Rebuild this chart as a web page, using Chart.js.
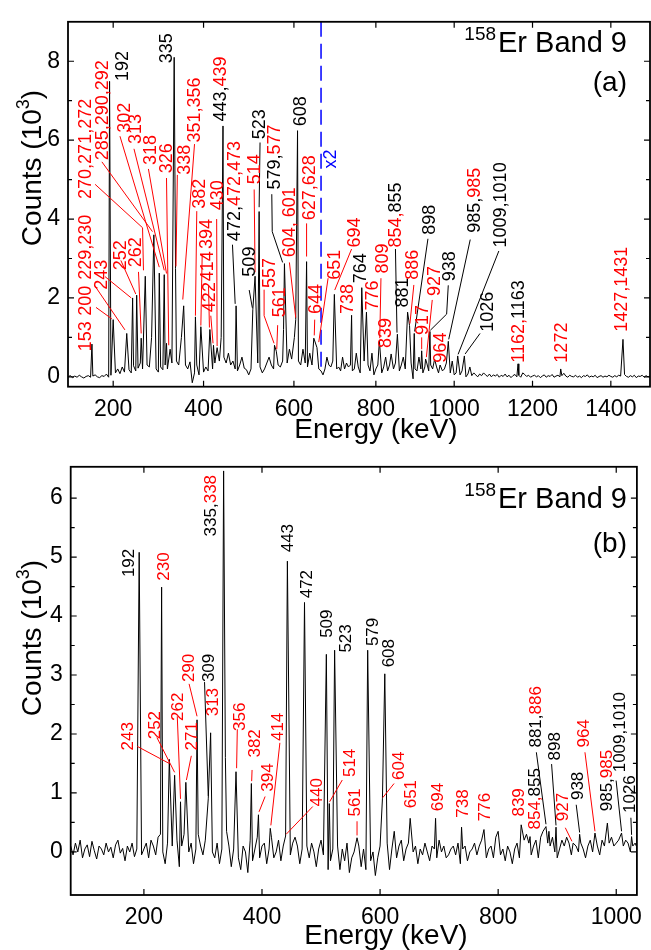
<!DOCTYPE html>
<html>
<head>
<meta charset="utf-8">
<script src="https://cdn.jsdelivr.net/npm/chart.js@4.4.1/dist/chart.umd.min.js"></script>
<style>
  html, body { margin: 0; padding: 0; background: #fff; }
  #wrap { position: relative; width: 651px; height: 950px; overflow: hidden; }
  canvas { position: absolute; left: 0; }
  #specA { top: 0; }
  #specB { top: 445px; }
</style>
</head>
<body>
<div id="wrap">
  <canvas id="specA" width="651" height="445"></canvas>
  <canvas id="specB" width="651" height="505"></canvas>
</div>
<script>
// ---------- panel (a): full gate spectrum, counts in 10^3 ----------
const energyTicksA = [200, 400, 600, 800, 1000, 1200, 1400];
const countTicksA = [0, 2, 4, 6, 8];
const countMinorA = [1, 3, 5, 7];
const bgStartA = 100, bgStepA = 5;
const backgroundA = [
  0.0, 0.03, -0.02, 0.02, -0.01, 0.04, 0.0, -0.03, 0.01, 0.03, -0.01, 0.02, 0.05, 0.0, -0.02, 0.03, 0.01, 0.07, -0.01, 0.04,
  0.15, 0.1, 0.2, 0.08, 0.25, 0.12, 0.3, 0.18, 0.1, 0.28, 0.15, 0.22, 0.35, 0.2, 0.1, 0.3, 0.25, 0.15, 0.32, 0.2, 0.12,
  0.25, 0.18, 0.3, 0.2, 0.15, 0.35, 0.28, 0.4, 0.3, 0.22, 0.45, 0.3, 0.2, 0.38, -0.15, 0.1, 0.3, 0.05, 0.2, 0.12,
  0.25, 0.15, 0.3, 0.2, 0.35, 0.22, 0.4, 0.3, 0.5, 0.35, 0.6, 0.3, 0.4, 0.2, 0.15, 0.3, 0.5, 0.22, 0.18, 0.05,
  0.2, 0.3, 0.15, 0.35, 0.25, 0.1, 0.2, 0.35, 0.5, 0.3, 0.2, 0.15, 0.3, 0.25, 0.4, 0.5, 0.35, 0.7, 0.45, 0.5,
  0.55, 0.4, 0.3, 0.7, 0.35, 0.25, 0.6, 0.3, 0.45, 0.3, 0.2, 0.15, 0.05, 0.2, 0.5, 0.3, 0.25, 0.4, 0.35, 0.2,
  0.25, 0.15, 0.5, 0.2, 0.35, 0.25, 0.3, 0.15, 0.2, 0.6, 0.25, 0.1, 0.3, 0.4, 0.2, 0.3, 0.15, 0.6, 0.05, 0.2,
  0.3, 0.2, 0.1, 0.25, 0.5, 0.15, 0.3, 0.05, 0.2, 0.35, 0.25, 0.15, 0.3, 0.5, 0.2, 0.3, 0.5, 0.35, -0.05, 0.2,
  0.15, 0.5, 0.2, 0.1, 0.25, 0.35, 0.15, 0.3, 0.2, 0.45, 0.25, 0.1, 0.3, 0.15, 0.2, 0.35, 0.25, 0.1, 0.4, 0.05,
  0.1, 0.2, 0.05, 0.15, 0.1, 0.0, 0.07, 0.25, 0.03, 0.1, 0.05, 0.0, 0.07, 0.03, 0.1, 0.05, 0.01, 0.07, 0.0, 0.05,
  0.02, 0.06, -0.01, 0.04, 0.01, 0.07, 0.0, 0.04, -0.02, 0.03, 0.06, 0.0, 0.04, -0.01, 0.1, 0.06, 0.01, 0.04, -0.01, 0.02,
  0.04, 0.0, 0.03, -0.02, 0.02, 0.05, -0.01, 0.03, 0.01, 0.06, -0.01, 0.02, 0.04, 0.0, 0.03, 0.09, 0.02, -0.01, 0.04, 0.01,
  0.0, 0.04, -0.01, 0.02, -0.02, 0.03, 0.01, 0.05, -0.01, 0.02, 0.0, 0.04, -0.02, 0.01, 0.03, -0.01, 0.02, 0.0, 0.04, 0.01,
  -0.01, 0.03, 0.0, 0.04, 0.02, 0.09, 0.06, 0.01, -0.01, 0.03, 0.0, 0.04, -0.02, 0.02, 0.01, 0.04, -0.01, 0.03, 0.0, 0.02
];
const peakEnergyA = [153, 192, 200, 230, 243, 252, 262, 271, 285, 290, 302, 313, 318, 326, 335, 338, 351, 356,
  382, 394, 414, 422, 430, 439, 443, 472, 509, 514, 523, 557, 561, 577, 579, 601, 604, 608, 628, 644, 651,
  694, 738, 764, 776, 809, 839, 855, 881, 886, 898, 917, 927, 938, 964, 985, 1009, 1026, 1163, 1272, 1431];
const peakHeightA = [0.83, 7.49, 1.45, 1.1, 2.0, 2.07, 0.98, 2.55, 1.0, 3.6, 2.63, 2.59, 0.85, 0.7, 8.1, 2.75, 1.0, 1.8,
  1.52, 1.27, 1.2, 0.8, 0.74, 1.0, 6.36, 1.8, 1.7, 2.55, 4.19, 0.8, 0.65, 1.2, 2.87, 1.0, 1.45, 6.24, 2.92, 0.98, 0.74,
  2.09, 1.56, 2.26, 1.64, 0.92, 0.58, 1.08, 1.64, 1.3, 1.1, 0.66, 0.45, 1.15, 0.3, 0.9, 0.53, 0.53, 0.33, 0.2, 0.95];

// ---------- panel (b) ----------
const energyTicksB = [200, 400, 600, 800, 1000];
const countTicksB = [0, 1, 2, 3, 4, 5, 6];
const countMinorB = [0.5, 1.5, 2.5, 3.5, 4.5, 5.5];
const bgStartB = 76, bgStepB = 4;
const backgroundB = [
  0.1, -0.05, 0.15, 0.0, 0.2, -0.1, 0.05, 0.12, -0.08, 0.18, 0.02, -0.12, 0.1, 0.05, -0.05, 0.15, 0.0, 0.08, -0.1, 0.12,
  0.2, -0.02, 0.06, -0.15, 0.1, 0.0, 0.15, -0.08, 0.05, 0.1, -0.05,
  0.05, 0.15, -0.1, 0.2, 0.1, -0.05, 0.25, 0.3, 0.0, -0.2,
  0.15, 0.35, 0.1, -0.15, 0.2, -0.25, 0.1, 0.3, -0.1, 0.0,
  0.15, -0.2, 0.05, 0.3, 0.1, -0.05, 0.2, 0.4, 0.25, 0.0,
  -0.1, 0.15, -0.2, 0.05, 0.2, 0.35, 0.1, -0.25, 0.05, 0.15,
  -0.1, -0.3, 0.1, 0.0, -0.35, 0.2, -0.15, 0.05, 0.25, -0.1,
  0.1, 0.15, -0.2, 0.05, 0.25, -0.1, 0.0, 0.2, -0.15, 0.1,
  0.05, 0.2, -0.05, 0.15, 0.25, 0.1, -0.2, 0.05, 0.3, 0.1,
  -0.1, 0.15, 0.0, -0.25, 0.05, 0.2, -0.05, 0.1, -0.3, -0.15,
  0.05, -0.2, 0.1, -0.3, 0.05, -0.15, 0.15, -0.35, -0.1, 0.0,
  -0.45, 0.1, -0.25, 0.05, -0.3, 0.1, -0.15, 0.0, -0.4, -0.1,
  0.1, -0.05, 0.25, 0.15, -0.3, 0.05, 0.35, -0.1, 0.1, 0.2,
  -0.15, 0.05, 0.15, -0.1, 0.0, 0.1, -0.2, 0.05, -0.05, 0.15,
  0.0, -0.15, 0.1, 0.05, -0.1, 0.2, 0.0, 0.1, -0.1, -0.05,
  0.05, 0.1, -0.05, 0.15, -0.2, 0.05, 0.1, -0.15, 0.0, 0.05,
  0.15, -0.05, 0.1, 0.2, 0.0, -0.1, 0.05, 0.1, -0.1, 0.25,
  0.35, -0.05, 0.05, -0.15, 0.1, 0.0, -0.2, 0.05, 0.15, -0.1,
  0.05, 0.2, 0.3, 0.15, -0.05, 0.1, 0.2, -0.1, 0.25, 0.35,
  0.3, 0.15, 0.1, 0.25, 0.0, -0.1, 0.05, 0.2, 0.1, 0.25,
  0.15, -0.05, 0.2, 0.1, 0.0, 0.15, 0.05, -0.1, 0.1, 0.2,
  0.0, 0.15, 0.1, -0.05, 0.2, 0.1, 0.05, 0.15, 0.25, 0.1,
  0.15, 0.2, 0.05, 0.1, 0.2, 0.15, 0.0, 0.1, 0.15, 0.05
];
const peakEnergyB = [192, 230, 243, 252, 262, 271, 290, 309, 313, 335, 338, 356, 382, 394, 414, 440, 443, 472,
  509, 514, 523, 561, 579, 604, 608, 651, 694, 738, 776, 839, 854, 881, 886, 898, 927, 938, 964, 985, 1009, 1026];
const peakHeightB = [5.08, 4.49, 1.57, 1.3, 0.85, 1.18, 2.24, 0.9, 2.02, 6.46, 1.6, 1.36, 1.16, 0.63, 0.4, 0.27, 4.93, 4.23,
  3.35, 0.82, 3.42, 0.24, 3.42, 0.9, 3.02, 0.57, 0.57, 0.42, 0.38, 0.46, 0.26, 0.43, 0.35, 0.42, 0.15, 0.3, 0.32, 0.49, 0.32, 0.26];

const FONT = '"Liberation Sans", Arial, Helvetica, sans-serif';
const R = '#ff0000', K = '#000000', BLUE = '#0000ff';

// rotated peak labels: "at" is the foot of the text column (keV, counts), "line" the leader down to the peak
const labelsA = [
  { parts: [['153', R]], at: [137.6, 0.65] },
  { parts: [['200', R]], at: [137.6, 1.55], line: [[162, 1.76], [197, 1.47]] },
  { parts: [['229,230', R]], at: [137.6, 2.46], line: [[158, 2.33], [226, 1.19]] },
  { parts: [['243', R]], at: [172.4, 2.21], line: [[182, 2.54], [240, 2.0]] },
  { parts: [['252', R]], at: [215.1, 2.7], line: [[217, 2.95], [250, 2.1]] },
  { parts: [['262', R]], at: [248.3, 2.78], line: [[256, 2.66], [262, 1.1]] },
  { parts: [['270,271,272', R]], at: [137.6, 4.51], line: [[160, 4.88], [265, 3.78], [267, 2.7]] },
  { parts: [['285,290,292', R]], at: [174.6, 5.49], line: [[175, 5.45], [287, 3.68]] },
  { parts: [['302', R]], at: [222.4, 6.19], line: [[215, 6.1], [302, 2.78]] },
  { parts: [['313', R]], at: [248.3, 5.9], line: [[246, 5.78], [313, 2.7]] },
  { parts: [['318', R]], at: [281.5, 5.37], line: [[278, 5.27], [318, 2.62]] },
  { parts: [['326', R]], at: [316.9, 5.16], line: [[318, 5.04], [323, 0.8]] },
  { parts: [['338', R]], at: [355.1, 5.12], line: [[342, 5.12], [339, 2.8]] },
  { parts: [['335', K]], at: [316.9, 7.95] },
  { parts: [['192', K]], at: [218.8, 7.5] },
  { parts: [['351,356', R]], at: [377.3, 5.94], line: [[380, 5.9], [354, 1.96]] },
  { parts: [['382', R]], at: [388.3, 4.26], line: [[385, 4.2], [382, 1.55]] },
  { parts: [['394', R]], at: [404.7, 3.24], line: [[397, 3.1], [394, 1.3]] },
  { parts: [['414', R]], at: [406.9, 2.42], line: [[411, 2.3], [413, 1.25]] },
  { parts: [['422', R]], at: [410.5, 1.64], line: [[416, 1.55], [421, 0.85]] },
  { parts: [['430', R]], at: [429.1, 4.22], line: [[429, 4.0], [430, 0.78]] },
  { parts: [['443,', K], ['439', R]], at: [436.4, 6.47] },
  { parts: [['472,', K], ['472,473', R]], at: [465.8, 3.44], line: [[464, 3.35], [470, 1.85]] },
  { parts: [['509', K]], at: [499, 2.54], line: [[501, 2.2], [508, 1.75]] },
  { parts: [['514', R]], at: [510.1, 4.88], line: [[512, 4.75], [514, 2.65]] },
  { parts: [['523', K]], at: [521.1, 6.02], line: [[525, 5.94], [523, 4.3]] },
  { parts: [['557', R]], at: [543.2, 2.25], line: [[534, 2.21], [534, 1.55], [556, 0.85]] },
  { parts: [['561', R]], at: [565.4, 1.51], line: [[564, 1.31], [562, 0.7]] },
  { parts: [['579,', K], ['577', R]], at: [554.3, 4.75], line: [[551, 4.63], [552, 3.68], [575, 2.9]] },
  { parts: [['604, 601', R]], at: [587.5, 3.03], line: [[590, 2.9], [604, 1.5]] },
  { parts: [['608', K]], at: [613.4, 6.35] },
  { parts: [['627,628', R]], at: [631.8, 3.97], line: [[628, 3.89], [628, 3.05]] },
  { parts: [['644', R]], at: [646.6, 1.59], line: [[646, 1.45], [645, 1.05]] },
  { parts: [['651', R]], at: [691.3, 2.46], line: [[678, 2.5], [655, 0.88]] },
  { parts: [['694', R]], at: [742.3, 3.28], line: [[738, 3.24], [695, 2.2]] },
  { parts: [['738', R]], at: [725.4, 1.59] },
  { parts: [['764', K]], at: [759.5, 2.37] },
  { parts: [['776', R]], at: [789.4, 1.68] },
  { parts: [['809', R]], at: [814.9, 2.62], line: [[813, 2.5], [810, 0.98]] },
  { parts: [['839', R]], at: [823.3, 0.73] },
  { parts: [['854,', R], ['855', K]], at: [848.8, 3.28], lc: K, line: [[850, 3.24], [854, 1.12]] },
  { parts: [['881', K]], at: [865.9, 1.76] },
  { parts: [['886', R]], at: [891.4, 2.46], line: [[897, 2.33], [887, 1.35]] },
  { parts: [['898', K]], at: [933.8, 3.6], line: [[933, 3.5], [899, 1.15]] },
  { parts: [['917', R]], at: [917, 1.06], line: [[917, 1.0], [917, 0.7]] },
  { parts: [['927', R]], at: [946.6, 2.05], line: [[944, 1.95], [929, 0.5]] },
  { parts: [['938', K]], at: [984.9, 2.42], line: [[984.9, 2.32], [980.7, 1.59], [939, 1.18]] },
  { parts: [['964', R]], at: [963.7, 0.36] },
  { parts: [['985,', K], ['985', R]], at: [1048.6, 3.65], line: [[1041, 3.48], [986, 0.95]] },
  { parts: [['1009,1010', K]], at: [1116.9, 3.28], line: [[1114, 3.19], [1010, 0.57]] },
  { parts: [['1026', K]], at: [1082.9, 1.14], line: [[1066, 1.1], [1028, 0.58]] },
  { parts: [['1162,', R], ['1163', K]], at: [1161.2, 0.36] },
  { parts: [['1272', R]], at: [1271.9, 0.36] },
  { parts: [['1427,1431', R]], at: [1425.1, 1.14] },
  { parts: [['x2', BLUE]], at: [681, 5.28] }
];

const labelsB = [
  { parts: [['192', K]], at: [172.7, 4.66] },
  { parts: [['230', R]], at: [232.7, 4.6] },
  { parts: [['243', R]], at: [172, 1.72], line: [[188.7, 1.79], [243, 1.5]] },
  { parts: [['252', R]], at: [216.5, 1.91], line: [[222, 1.94], [252, 1.35]] },
  { parts: [['262', R]], at: [255.3, 2.22], line: [[256.5, 2.3], [262, 0.9]] },
  { parts: [['271', R]], at: [280.3, 1.72], line: [[280.3, 1.63], [272, 1.22]] },
  { parts: [['290', R]], at: [274.8, 2.88], line: [[276.5, 2.85], [290, 2.3]] },
  { parts: [['309', K]], at: [308.2, 2.88], line: [[302.7, 2.88], [309, 0.95]] },
  { parts: [['313', R]], at: [315.8, 2.3] },
  { parts: [['335,', K], ['338', R]], at: [311, 5.35] },
  { parts: [['356', R]], at: [361, 2.05], line: [[358.2, 2.08], [357, 1.42]] },
  { parts: [['382', R]], at: [386, 1.6], line: [[383.2, 1.39], [382.5, 1.2]] },
  { parts: [['394', R]], at: [408.2, 1.02], line: [[405.3, 0.94], [395, 0.68]] },
  { parts: [['414', R]], at: [424.8, 1.88], line: [[430.3, 1.85], [415, 0.45]] },
  { parts: [['440', R]], at: [491.5, 0.77], line: [[486, 0.77], [441, 0.3]] },
  { parts: [['443', K]], at: [443, 5.08] },
  { parts: [['472', K]], at: [473.7, 4.3] },
  { parts: [['509', K]], at: [509, 3.63] },
  { parts: [['523', K]], at: [539.7, 3.38] },
  { parts: [['514', R]], at: [547, 1.27], line: [[536, 1.22], [514.5, 0.85]] },
  { parts: [['561', R]], at: [555.3, 0.6], line: [[561, 0.52], [561, 0.28]] },
  { parts: [['579', K]], at: [585.7, 3.49] },
  { parts: [['608', K]], at: [613.7, 3.13] },
  { parts: [['604', R]], at: [630.3, 1.22], line: [[623.7, 1.16], [604.5, 0.92]] },
  { parts: [['651', R]], at: [651, 0.74] },
  { parts: [['694', R]], at: [695.7, 0.69] },
  { parts: [['738', R]], at: [738, 0.58] },
  { parts: [['776', R]], at: [776, 0.52] },
  { parts: [['839', R]], at: [834, 0.6] },
  { parts: [['854,', R], ['855', K]], at: [860, 0.38] },
  { parts: [['881,', K], ['886', R]], at: [862, 1.77], line: [[864.7, 1.69], [881, 0.47]] },
  { parts: [['898', K]], at: [894.3, 1.55], line: [[890.5, 1.49], [898, 0.45]] },
  { parts: [['927', R]], at: [908.2, 0.52], line: [[913.7, 0.41], [925, 0.18]] },
  { parts: [['938', K]], at: [933.2, 0.88], line: [[932.2, 0.8], [938, 0.33]] },
  { parts: [['964', R]], at: [944.3, 1.77], line: [[947, 1.69], [964, 0.35]] },
  { parts: [['985,', K], ['985', R]], at: [982.2, 0.69] },
  { parts: [['1009,1010', K]], at: [1003.7, 1.35], line: [[999.8, 1.21], [1009, 0.35]] },
  { parts: [['1026', K]], at: [1022, 0.66], line: [[1024.8, 0.58], [1026, 0.29]] }
];

// merge the channel background with the peak tops, ordered by energy
function buildSpectrum(start, step, bg, pe, ph) {
  const pts = [];
  bg.forEach((v, i) => {
    const e = start + i * step;
    if (!pe.some(p => Math.abs(p - e) < 2)) pts.push({ x: e, y: v });
  });
  pe.forEach((e, i) => pts.push({ x: e, y: ph[i] }));
  return pts.sort((a, b) => a.x - b.x);
}

// panel (a) axis is compressed above the x2 mark
const breakA = 660, squeezeA = 0.8667;
class BrokenLinearScale extends Chart.LinearScale {
  warp(v) { return v <= breakA ? v : breakA + (v - breakA) * squeezeA; }
  unwarp(u) { return u <= breakA ? u : breakA + (u - breakA) / squeezeA; }
  getPixelForValue(v) {
    if (v === null || v === undefined) return NaN;
    const a = this.warp(this.min), b = this.warp(this.max);
    return this.getPixelForDecimal((this.warp(v) - a) / (b - a));
  }
  getValueForPixel(p) {
    const a = this.warp(this.min), b = this.warp(this.max);
    return this.unwarp(a + this.getDecimalForPixel(p) * (b - a));
  }
}
BrokenLinearScale.id = 'brokenLinear';
BrokenLinearScale.defaults = {};
Chart.register(BrokenLinearScale);

function decorations(cfg) {
  return {
    id: cfg.id,
    afterDatasetsDraw(chart) {
      const { ctx, chartArea: ca } = chart;
      const xs = chart.scales.x, ys = chart.scales.y;
      const px = e => xs.getPixelForValue(e), py = v => ys.getPixelForValue(v);
      ctx.save();
      ctx.textAlign = 'left';
      ctx.textBaseline = 'alphabetic';

      if (cfg.splitAt) {
        ctx.strokeStyle = BLUE;
        ctx.lineWidth = 1.5;
        ctx.setLineDash([15, 7]);
        ctx.beginPath();
        ctx.moveTo(px(cfg.splitAt), ca.top);
        ctx.lineTo(px(cfg.splitAt), py(cfg.splitEnd));
        ctx.stroke();
        ctx.setLineDash([]);
      }

      // leaders
      ctx.lineWidth = 1;
      cfg.labels.forEach(lb => {
        if (!lb.line) return;
        ctx.strokeStyle = lb.lc || lb.parts[0][1];
        ctx.beginPath();
        lb.line.forEach(([e, v], i) => i ? ctx.lineTo(px(e), py(v)) : ctx.moveTo(px(e), py(v)));
        ctx.stroke();
      });

      // vertical labels, possibly two-coloured
      ctx.font = `${cfg.labelSize}px ${FONT}`;
      cfg.labels.forEach(lb => {
        ctx.save();
        ctx.translate(px(lb.at[0]), py(lb.at[1]));
        ctx.rotate(-Math.PI / 2);
        let off = 0;
        lb.parts.forEach(([t, c]) => {
          ctx.fillStyle = c;
          ctx.fillText(t, off, cfg.labelSize * 0.36);
          off += ctx.measureText(t).width;
        });
        ctx.restore();
      });

      // frame and inward ticks on all four sides
      ctx.strokeStyle = '#000';
      ctx.lineWidth = 1.8;
      ctx.strokeRect(ca.left, ca.top, ca.right - ca.left, ca.bottom - ca.top);
      ctx.lineWidth = 1.2;
      ctx.beginPath();
      cfg.xTicks.forEach(e => {
        const x = px(e);
        ctx.moveTo(x, ca.bottom); ctx.lineTo(x, ca.bottom - 6);
        ctx.moveTo(x, ca.top); ctx.lineTo(x, ca.top + 6);
      });
      cfg.yTicks.forEach(v => {
        const y = py(v);
        ctx.moveTo(ca.left, y); ctx.lineTo(ca.left + 6, y);
        ctx.moveTo(ca.right, y); ctx.lineTo(ca.right - 6, y);
      });
      cfg.yMinor.forEach(v => {
        const y = py(v);
        ctx.moveTo(ca.left, y); ctx.lineTo(ca.left + 4, y);
        ctx.moveTo(ca.right, y); ctx.lineTo(ca.right - 4, y);
      });
      ctx.stroke();

      // nucleus / band tag and panel letter
      ctx.fillStyle = '#000';
      ctx.textAlign = 'right';
      ctx.font = `29px ${FONT}`;
      ctx.fillText('Er Band 9', cfg.tagRight, cfg.tagBase);
      const w = ctx.measureText('Er Band 9').width;
      ctx.font = `28px ${FONT}`;
      ctx.fillText(cfg.panel, cfg.tagRight, cfg.panelBase);
      ctx.font = `19px ${FONT}`;
      ctx.fillText('158', cfg.tagRight - w - 2, cfg.tagBase - 12);

      // axis titles
      ctx.textAlign = 'center';
      ctx.font = `28px ${FONT}`;
      ctx.fillText('Energy (keV)', cfg.xTitle[0], cfg.xTitle[1]);

      ctx.save();
      ctx.translate(cfg.yTitle[0], cfg.yTitle[1]);
      ctx.rotate(-Math.PI / 2);
      ctx.textAlign = 'left';
      ctx.font = `28px ${FONT}`;
      const w1 = ctx.measureText('Counts (10').width, w3 = ctx.measureText(')').width;
      ctx.font = `18px ${FONT}`;
      const w2 = ctx.measureText('3').width;
      const s = -(w1 + w2 + w3) / 2;
      ctx.font = `28px ${FONT}`;
      ctx.fillText('Counts (10', s, 0);
      ctx.font = `18px ${FONT}`;
      ctx.fillText('3', s + w1, -12);
      ctx.font = `28px ${FONT}`;
      ctx.fillText(')', s + w1 + w2, 0);
      ctx.restore();

      ctx.restore();
    }
  };
}

function axisTicks(size, pad) {
  return {
    autoSkip: false, maxRotation: 0, minRotation: 0, padding: pad, color: '#000',
    font: { family: FONT, size: size }, callback: v => String(v)
  };
}

function spectrumChart(id, opt) {
  return new Chart(document.getElementById(id), {
    type: 'line',
    data: {
      datasets: [{
        data: opt.points, borderColor: '#000', borderWidth: 1, pointRadius: 0,
        tension: 0, fill: false
      }]
    },
    options: {
      responsive: false, animation: false, devicePixelRatio: 1,
      layout: { padding: opt.padding },
      plugins: { legend: { display: false }, tooltip: { enabled: false } },
      scales: {
        x: {
          type: opt.xType, min: opt.xRange[0], max: opt.xRange[1],
          grid: { display: false, drawTicks: false }, border: { display: false },
          afterBuildTicks: s => { s.ticks = opt.xTicks.map(v => ({ value: v })); },
          afterFit: s => { s.height = opt.xHeight; },
          ticks: axisTicks(23, 9)
        },
        y: {
          type: 'linear', min: opt.yRange[0], max: opt.yRange[1],
          grid: { display: false, drawTicks: false }, border: { display: false },
          afterBuildTicks: s => { s.ticks = opt.yTicks.map(v => ({ value: v })); },
          afterFit: s => { s.width = opt.yWidth; },
          ticks: axisTicks(23, 8)
        }
      }
    },
    plugins: [decorations(opt.decor)]
  });
}

spectrumChart('specA', {
  points: buildSpectrum(bgStartA, bgStepA, backgroundA, peakEnergyA, peakHeightA),
  xType: 'brokenLinear', xRange: [100, 1500], yRange: [-0.25, 9],
  xTicks: energyTicksA, yTicks: countTicksA,
  padding: { top: 10.7, right: 1, left: 0, bottom: 0 }, xHeight: 58.3, yWidth: 68,
  decor: {
    id: 'decorA', labels: labelsA, labelSize: 18, splitAt: breakA, splitEnd: 0.2,
    xTicks: energyTicksA, yTicks: countTicksA, yMinor: countMinorA,
    tagRight: 627, tagBase: 51.7, panel: '(a)', panelBase: 91,
    xTitle: [376, 438], yTitle: [41, 168]
  }
});

spectrumChart('specB', {
  points: buildSpectrum(bgStartB, bgStepB, backgroundB, peakEnergyB, peakHeightB),
  xType: 'linear', xRange: [76, 1035], yRange: [-0.73, 6.53],
  xTicks: energyTicksB, yTicks: countTicksB,
  padding: { top: 14.3, right: 5, left: 0, bottom: 0 }, xHeight: 55, yWidth: 70.7,
  decor: {
    id: 'decorB', labels: labelsB, labelSize: 17,
    xTicks: energyTicksB, yTicks: countTicksB, yMinor: countMinorB,
    tagRight: 627, tagBase: 63.3, panel: '(b)', panelBase: 107,
    xTitle: [386, 499], yTitle: [41, 193]
  }
});
</script>
</body>
</html>
